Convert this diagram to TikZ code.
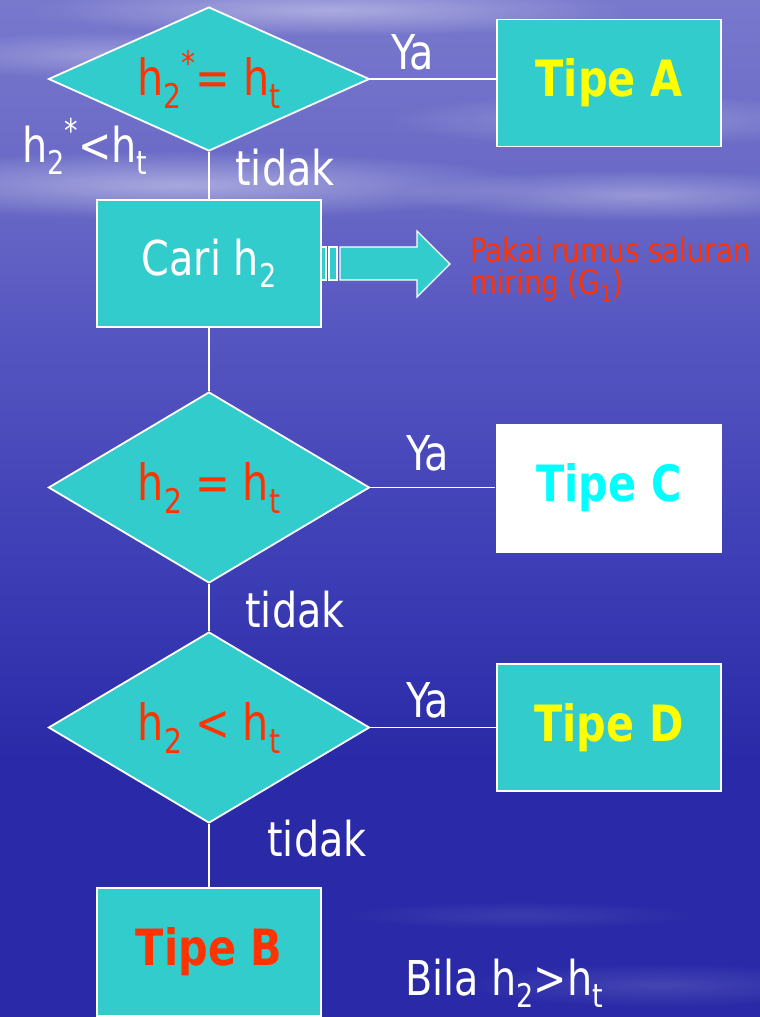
\documentclass[tikz,border=0pt]{standalone}
\usepackage{fontspec}
\setmainfont[FakeStretch=0.92]{DejaVu Sans Condensed}
\usetikzlibrary{shapes.geometric,fadings}
\definecolor{teal}{HTML}{33CCCC}
\definecolor{redtxt}{HTML}{FF3300}
\definecolor{yel}{HTML}{FFFF00}
\definecolor{cyn}{HTML}{00FFFF}
\definecolor{skyA}{RGB}{120,120,205}
\definecolor{skyB}{RGB}{104,104,198}
\definecolor{seaA}{RGB}{86,86,193}
\definecolor{seaB}{RGB}{62,62,182}
\definecolor{seaC}{RGB}{42,42,168}
\makeatletter
% lowered and raised small indices, scaled to the current font size
\newcommand\lo[1]{\raisebox{-0.26em}{\fontsize{\fpeval{0.68*\f@size}}{0}\selectfont #1}}
\newcommand\hi[1]{\raisebox{0.40em}{\fontsize{\fpeval{0.68*\f@size}}{0}\selectfont #1}}
\makeatother
% soft radial fade for the cloud streaks
\tikzfading[name=haze, inner color=transparent!30, outer color=transparent!100]
\tikzset{
  decision/.style={diamond, draw=white, line width=1.8pt, fill=teal, inner sep=0pt,
    minimum width=321pt, text=redtxt, font=\fontsize{50}{54}\selectfont},
  outbox/.style={rectangle, draw=white, line width=1.8pt, fill=teal, inner sep=0pt,
    minimum width=224pt, minimum height=127pt},
  tipe/.style={font=\bfseries\fontsize{50}{54}\selectfont},
  lbl/.style={text=white, inner sep=0pt, font=\fontsize{48}{52}\selectfont},
  link/.style={white, line width=1.8pt},
  soft/.style={white, path fading=haze}
}
\begin{document}
\begin{tikzpicture}[x=1pt, y=-1pt]
\useasboundingbox (0,0) rectangle (760,1017);
% sky and sea background
\fill[top color=skyA, bottom color=skyB] (0,0) rectangle (760,200);
\fill[top color=skyB, bottom color=seaA] (0,200) rectangle (760,330);
\fill[top color=seaA, bottom color=seaB] (0,330) rectangle (760,560);
\fill[top color=seaB, bottom color=seaC] (0,560) rectangle (760,760);
\fill[seaC] (0,760) rectangle (760,1017);
% soft cloud streaks
\fill[soft, opacity=.55] (330,10) ellipse (300 and 26);
\fill[soft, opacity=.40] (110,55) ellipse (200 and 24);
\fill[soft, opacity=.35] (620,120) ellipse (240 and 26);
\fill[soft, opacity=.60] (180,185) ellipse (360 and 34);
\fill[soft, opacity=.45] (640,195) ellipse (240 and 26);
\fill[soft, opacity=.18] (660,985) ellipse (200 and 22);
\fill[soft, opacity=.12] (520,915) ellipse (180 and 14);

% decisions
\node[decision, aspect=2.23, minimum height=144pt] (d1) at (209,79) {h\lo{2}\hi{*}= h\lo{t}};
\node[decision, aspect=1.68, minimum height=191pt] (d2) at (209,487.5) {h\lo{2} = h\lo{t}};
\node[decision, aspect=1.68, minimum height=191pt] (d3) at (209,727.5) {h\lo{2} < h\lo{t}};

% process and result boxes
\node[outbox, tipe, text=yel] (tA) at (609,83) {Tipe A};
\node[outbox, text=white, font=\fontsize{48}{52}\selectfont] (cari) at (209,263.5) {Cari h\lo{2}};
\node[outbox, tipe, text=cyn, fill=white, draw=none, minimum width=226pt, minimum height=129pt] (tC) at (609,488) {Tipe C};
\node[outbox, tipe, text=yel] (tD) at (609,727.5) {Tipe D};
\node[outbox, tipe, text=redtxt, minimum height=128pt] (tB) at (209,952) {Tipe B};

% connectors
\draw[link] (d1.east) -- (d1.east -| tA.west);
\draw[link] (d1.south) -- (cari.north);
\draw[link] (cari.south) -- (d2.north);
\draw[link] (d2.east) -- (d2.east -| tC.west);
\draw[link] (d2.south) -- (d3.north);
\draw[link] (d3.east) -- (d3.east -| tD.west);
\draw[link] (d3.south) -- (tB.north);

% striped block arrow out of the search box
\draw[white, line width=1.3pt, fill=teal] (321,247) rectangle (326,280);
\draw[white, line width=1.3pt, fill=teal] (329,247) rectangle (337,280);
\draw[white, line width=1.3pt, fill=teal, line join=miter]
  (340,247) -- (417,247) -- (417,231) -- (450,264) -- (417,297) -- (417,280) -- (340,280) -- cycle;
\node[anchor=base west, inner sep=0pt, text=redtxt, font=\fontsize{33.5}{35}\selectfont] (note1) at (470,262) {Pakai rumus saluran};
\node[anchor=base west, inner sep=0pt, text=redtxt, font=\fontsize{33.5}{35}\selectfont] (note2) at (470,294) {miring (G\lo{1})};

% branch labels
\node[lbl] (ya1) at (413,52) {Ya};
\node[lbl] (ya2) at (428,453) {Ya};
\node[lbl] (ya3) at (428,700) {Ya};
\node[lbl, anchor=base] (no1) at (285,185) {tidak};
\node[lbl, anchor=base] (no2) at (295,627) {tidak};
\node[lbl, anchor=base] (no3) at (317,856) {tidak};
\node[lbl, anchor=base west] (lt) at (22,162) {h\lo{2}\hi{*}<h\lo{t}};
\node[lbl, anchor=base west] (gt) at (405,995) {Bila h\lo{2}>h\lo{t}};
\end{tikzpicture}
\end{document}
